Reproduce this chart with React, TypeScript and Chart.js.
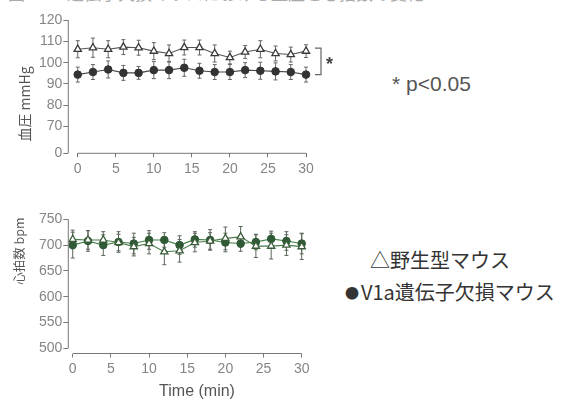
import React, { useEffect, useRef } from "react";
import { Chart, registerables } from "chart.js";

Chart.register(...registerables);

// ---------- data ----------
const timeMin = [0, 2, 4, 6, 8, 10, 12, 14, 16, 18, 20, 22, 24, 26, 28, 30];
const xTicks = [0, 5, 10, 15, 20, 25, 30];

// blood pressure (mmHg)
const bpWild = [106.3, 107, 106.3, 107.3, 107, 105.4, 104.3, 107.1, 107.1, 104.3, 102.4, 105, 106.3, 104.3, 103.8, 105.4];
const bpWildErr = [4, 4.5, 4, 3.5, 3.5, 4, 4, 3.5, 3.5, 4, 3, 3, 4, 3.5, 3.5, 3];
const bpKO = [94.4, 95.6, 96.8, 95.2, 95.2, 96.5, 96.5, 97.6, 96.2, 95.6, 95.6, 96.5, 96.2, 95.9, 95.6, 94.4];
const bpKOErr = [3.5, 3.5, 4, 3.5, 3, 4, 4, 4, 3.5, 3.5, 3.5, 3.5, 4, 4, 3.5, 3.5];
const bpTicks = [57.5, 70, 80, 90, 100, 110, 120];
const bpTickLabels = ["0", "70", "80", "90", "100", "110", "120"];

// heart rate (bpm)
const hrWild = [711, 710, 710, 705, 697, 703, 687, 689, 705, 708, 713, 716, 698, 698, 700, 697];
const hrWildErr = [18, 18, 16, 16, 18, 20, 25, 22, 18, 16, 22, 20, 22, 25, 20, 25];
const hrKO = [700, 708, 700, 706, 703, 710, 710, 700, 711, 710, 705, 703, 706, 712, 708, 703];
const hrKOErr = [25, 20, 20, 20, 20, 18, 14, 18, 15, 20, 18, 15, 15, 15, 18, 20];
const hrTicks = [500, 550, 600, 650, 700, 750];

const toPts = (vals: number[]) => vals.map((v, i) => ({ x: timeMin[i], y: v }));

// ---------- plugins ----------
const errorBarsPlugin = {
  id: "errorBars",
  beforeDatasetsDraw(chart: any, _args: any, opts: any) {
    const { ctx } = chart;
    const xs = chart.scales.x;
    const ys = chart.scales.y;
    (opts.sets || []).forEach((set: any) => {
      ctx.save();
      ctx.strokeStyle = set.color;
      ctx.lineWidth = 1;
      set.values.forEach((v: number, j: number) => {
        const px = xs.getPixelForValue(timeMin[j]);
        const top = ys.getPixelForValue(v + set.err[j]);
        const bot = ys.getPixelForValue(v - set.err[j]);
        ctx.beginPath();
        ctx.moveTo(px, top);
        ctx.lineTo(px, bot);
        ctx.moveTo(px - 2, top);
        ctx.lineTo(px + 2, top);
        ctx.moveTo(px - 2, bot);
        ctx.lineTo(px + 2, bot);
        ctx.stroke();
      });
      ctx.restore();
    });
  },
};

const axisLinesPlugin = {
  id: "axisLines",
  afterDraw(chart: any, _args: any, opts: any) {
    const { ctx, chartArea } = chart;
    const xs = chart.scales.x;
    const ys = chart.scales.y;
    ctx.save();
    ctx.strokeStyle = "#777";
    ctx.lineWidth = 1;
    ctx.beginPath();
    ctx.moveTo(xs.getPixelForValue(opts.xFrom), chartArea.bottom);
    ctx.lineTo(xs.getPixelForValue(opts.xTo), chartArea.bottom);
    ctx.moveTo(chartArea.left, ys.getPixelForValue(opts.yFrom));
    ctx.lineTo(chartArea.left, ys.getPixelForValue(opts.yTo));
    ctx.stroke();
    ctx.restore();
  },
};

const bracketPlugin = {
  id: "sigBracket",
  afterDraw(chart: any, _args: any, opts: any) {
    if (!opts || !opts.enabled) return;
    const { ctx } = chart;
    const xs = chart.scales.x;
    const ys = chart.scales.y;
    const last = timeMin.length - 1;
    const x0 = xs.getPixelForValue(timeMin[last]) + 9;
    const x1 = x0 + 6;
    const yT = ys.getPixelForValue(bpWild[last]) - 3;
    const yB = ys.getPixelForValue(bpKO[last]);
    ctx.save();
    ctx.strokeStyle = "#666";
    ctx.lineWidth = 1.2;
    ctx.beginPath();
    ctx.moveTo(x0, yT);
    ctx.lineTo(x1, yT);
    ctx.lineTo(x1, yB);
    ctx.lineTo(x0, yB);
    ctx.stroke();
    ctx.fillStyle = "#444";
    ctx.font = "bold 18px 'Liberation Sans', Arial, sans-serif";
    ctx.textAlign = "left";
    ctx.textBaseline = "middle";
    ctx.fillText("*", x1 + 5, (yT + yB) / 2 + 4);
    ctx.restore();
  },
};

const tickFont = { family: "'Liberation Sans', Arial, sans-serif", size: 14 };

function makeConfig(p: {
  wild: number[];
  wildErr: number[];
  ko: number[];
  koErr: number[];
  yMin: number;
  yMax: number;
  yTicks: number[];
  yLabel: (v: number) => string;
  xMin: number;
  padTop: number;
  padRight: number;
  xHeight: number;
  wildColor: string;
  wildLine: string;
  koColor: string;
  koLine: string;
  errColor: string;
  bracket: boolean;
  yAxisFrom: number;
  yAxisTo: number;
}) {
  return {
    type: "line" as const,
    data: {
      datasets: [
        {
          label: "野生型マウス",
          data: toPts(p.wild),
          borderColor: p.wildLine,
          borderWidth: 1.1,
          pointStyle: "triangle",
          pointRadius: 4.2,
          pointBackgroundColor: "#ffffff",
          pointBorderColor: p.wildColor,
          pointBorderWidth: 1.3,
          tension: 0,
          clip: false as any,
        },
        {
          label: "V1a遺伝子欠損マウス",
          data: toPts(p.ko),
          borderColor: p.koLine,
          borderWidth: 1.1,
          pointStyle: "circle",
          pointRadius: 3.8,
          pointBackgroundColor: p.koColor,
          pointBorderColor: p.koColor,
          pointBorderWidth: 1,
          tension: 0,
          clip: false as any,
        },
      ],
    },
    options: {
      animation: false as const,
      responsive: false,
      events: [],
      layout: { padding: { top: p.padTop, right: p.padRight, left: 0, bottom: 0 } },
      plugins: {
        legend: { display: false },
        tooltip: { enabled: false },
        title: { display: false },
        errorBars: {
          sets: [
            { values: p.wild, err: p.wildErr, color: p.errColor },
            { values: p.ko, err: p.koErr, color: p.errColor },
          ],
        },
        axisLines: { xFrom: 0, xTo: 30, yFrom: p.yAxisFrom, yTo: p.yAxisTo },
        sigBracket: { enabled: p.bracket },
      } as any,
      scales: {
        x: {
          type: "linear" as const,
          min: p.xMin,
          max: 30,
          afterBuildTicks: (axis: any) => {
            axis.ticks = xTicks.map((v) => ({ value: v }));
          },
          afterFit: (axis: any) => {
            axis.height = p.xHeight;
          },
          grid: { drawOnChartArea: false, drawTicks: true, tickLength: 4, color: "#777" },
          border: { display: false },
          ticks: { font: tickFont, color: "#858585", padding: 3, maxRotation: 0, autoSkip: false },
        },
        y: {
          type: "linear" as const,
          min: p.yMin,
          max: p.yMax,
          afterBuildTicks: (axis: any) => {
            axis.ticks = p.yTicks.map((v) => ({ value: v }));
          },
          afterFit: (axis: any) => {
            axis.width = 68.3;
          },
          grid: { drawOnChartArea: false, drawTicks: true, tickLength: 5, color: "#777" },
          border: { display: false },
          ticks: {
            font: tickFont,
            color: "#858585",
            padding: 1,
            autoSkip: false,
            callback: (v: any) => p.yLabel(Number(v)),
          },
        },
      },
    },
    plugins: [errorBarsPlugin, axisLinesPlugin, bracketPlugin],
  };
}

function ChartCanvas({ config, width, height, style }: any) {
  const ref = useRef<HTMLCanvasElement | null>(null);
  useEffect(() => {
    if (!ref.current) return;
    const chart = new Chart(ref.current, config as any);
    return () => chart.destroy();
  }, []);
  return <canvas ref={ref} width={width} height={height} style={{ position: "absolute", ...style }} />;
}

const topConfig = makeConfig({
  wild: bpWild,
  wildErr: bpWildErr,
  ko: bpKO,
  koErr: bpKOErr,
  yMin: 57.5,
  yMax: 120,
  yTicks: bpTicks,
  yLabel: (v) => bpTickLabels[bpTicks.indexOf(v)] ?? String(v),
  xMin: -1.24,
  padTop: 20,
  padRight: 34,
  xHeight: 31.7,
  wildColor: "#3a3a3a",
  wildLine: "#555",
  koColor: "#333",
  koLine: "#444",
  errColor: "#666",
  bracket: true,
  yAxisFrom: 57.5,
  yAxisTo: 120,
});

const bottomConfig = makeConfig({
  wild: hrWild,
  wildErr: hrWildErr,
  ko: hrKO,
  koErr: hrKOErr,
  yMin: 489.9,
  yMax: 750,
  yTicks: hrTicks,
  yLabel: (v) => String(v),
  xMin: -0.58,
  padTop: 29.3,
  padRight: 38.3,
  xHeight: 46.5,
  wildColor: "#3a5a3a",
  wildLine: "#4b7b4b",
  koColor: "#2f5a35",
  koLine: "#3f7f45",
  errColor: "#5a665a",
  bracket: false,
  yAxisFrom: 500,
  yAxisTo: 750,
});

const textFont = "'Liberation Sans', Arial, sans-serif";
const cjkFont = "'Noto Sans CJK JP', 'Noto Sans', sans-serif";

function Rotated({ cx, cy, size, children }: any) {
  return (
    <div
      style={{
        position: "absolute",
        left: cx,
        top: cy,
        transform: "translate(-50%, -50%) rotate(-90deg)",
        whiteSpace: "nowrap",
        fontFamily: cjkFont,
        fontSize: size,
        color: "#555",
        lineHeight: 1,
      }}
    >
      {children}
    </div>
  );
}

export default function App() {
  return (
    <div
      style={{
        position: "fixed",
        left: 0,
        top: 0,
        width: 565,
        height: 400,
        background: "#fff",
        overflow: "hidden",
      }}
    >
      <div
        style={{
          position: "absolute",
          left: 8,
          top: -16,
          fontFamily: cjkFont,
          fontSize: 17,
          lineHeight: "17px",
          color: "#aaa",
          whiteSpace: "nowrap",
        }}
      >
        図2 V1a遺伝子欠損マウスにおける血圧と心拍数の変化
      </div>
      <ChartCanvas config={topConfig} width={340} height={185} style={{ left: 0, top: 0 }} />
      <ChartCanvas config={bottomConfig} width={340} height={210} style={{ left: 0, top: 190 }} />
      <Rotated cx={24} cy={104} size={14}>
        血圧 mmHg
      </Rotated>
      <Rotated cx={19} cy={251} size={12.5}>
        心拍数 bpm
      </Rotated>
      <div
        style={{
          position: "absolute",
          left: 197,
          top: 391,
          transform: "translate(-50%, -50%)",
          fontFamily: textFont,
          fontSize: 16,
          color: "#555",
          whiteSpace: "nowrap",
          lineHeight: 1,
        }}
      >
        Time (min)
      </div>
      <div
        style={{
          position: "absolute",
          left: 392,
          top: 73,
          fontFamily: textFont,
          fontSize: 21,
          color: "#555",
          whiteSpace: "nowrap",
          lineHeight: 1,
        }}
      >
        * p&lt;0.05
      </div>
      <div
        style={{
          position: "absolute",
          left: 370,
          top: 248,
          fontFamily: cjkFont,
          fontSize: 20,
          color: "#333",
          whiteSpace: "nowrap",
          lineHeight: "24px",
        }}
      >
        △野生型マウス
      </div>
      <div
        style={{
          position: "absolute",
          left: 345,
          top: 280,
          fontFamily: cjkFont,
          fontSize: 20,
          color: "#333",
          whiteSpace: "nowrap",
          lineHeight: "24px",
        }}
      >
        <span style={{ fontSize: 14, marginRight: 2, verticalAlign: "2px" }}>●</span>V1a遺伝子欠損マウス
      </div>
    </div>
  );
}
